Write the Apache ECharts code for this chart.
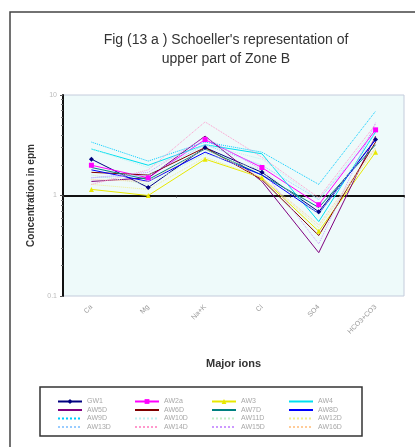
<!DOCTYPE html>
<html><head><meta charset="utf-8">
<script src="https://cdn.jsdelivr.net/npm/echarts@6/dist/echarts.min.js"></script>
<style>html,body{margin:0;padding:0;background:#fff}#c{width:415px;height:447px}</style>
</head><body><div id="c"></div>
<script>
const categories = ['Ca', 'Mg', 'Na+K', 'Cl', 'SO4', 'HCO3+CO3'];
const seriesNames = ['GW1','AW2a','AW3','AW4','AW5D','AW6D','AW7D','AW8D','AW9D','AW10D','AW11D','AW12D','AW13D','AW14D','AW15D','AW16D'];
const s01 = [2.3, 1.2, 3.0, 1.7, 0.69, 3.6];
const s02 = [2.0, 1.5, 3.6, 1.9, 0.81, 4.5];
const s03 = [1.15, 1.0, 2.3, 1.5, 0.44, 2.7];
const s04 = [2.9, 2.0, 3.2, 2.6, 0.55, 4.3];
const s05 = [1.38, 1.5, 3.9, 1.38, 0.27, 3.9];
const s06 = [1.7, 1.6, 3.0, 1.44, 0.40, 3.4];
const s07 = [1.9, 1.44, 2.9, 1.6, 0.76, 3.2];
const s08 = [1.8, 1.38, 2.7, 1.6, 0.66, 3.6];
const s09 = [3.4, 2.2, 3.4, 2.7, 1.29, 6.9];
const s10 = [2.9, 1.9, 3.2, 2.3, 0.91, 4.7];
const s11 = [1.6, 1.29, 2.6, 1.8, 0.65, 3.8];
const s12 = [1.29, 1.15, 2.4, 1.5, 0.48, 2.9];
const s13 = [1.5, 1.6, 3.2, 2.0, 0.91, 4.2];
const s14 = [1.29, 1.8, 5.4, 2.4, 0.95, 5.1];
const s15 = [1.5, 1.7, 3.8, 1.8, 0.33, 5.3];
const s16 = [1.44, 1.38, 2.9, 1.5, 0.51, 3.0];
const allValues = [s01,s02,s03,s04,s05,s06,s07,s08,s09,s10,s11,s12,s13,s14,s15,s16];
const yTicks = [0.1, 1, 10];

const colors = ['#000080','#FF00FF','#E8E800','#00E0F0','#800080','#800000','#008080','#0000FF',
                '#00CCFF','#BFF3F3','#C8F0C8','#F0F090','#99CCFF','#FF99CC','#CC99FF','#FFCC99'];
const symbols = ['diamond','rect','triangle','none','none','none','none','none',
                 'none','none','none','none','none','none','none','none'];

const series = allValues.map((d, i) => ({
  name: seriesNames[i], type: 'line', data: d, xAxisIndex: 0,
  symbol: symbols[i], symbolSize: 5, showSymbol: symbols[i] !== 'none',
  lineStyle: { width: 1, color: colors[i], type: i >= 8 ? 'dotted' : 'solid' },
  itemStyle: { color: colors[i] },
  z: 3
}));

const legendCols = [52, 129, 206, 283];
const legends = legendCols.map((x, c) => ({
  orient: 'vertical', left: x, top: 393, itemWidth: 24, itemHeight: 6, itemGap: 1.5,
  data: [0,1,2,3].map(r => {
    const k = r*4 + c;
    return symbols[k] === 'none' ? { name: seriesNames[k], itemStyle: { opacity: 0 } } : { name: seriesNames[k] };
  }),
  textStyle: { fontSize: 7, color: '#a8a8a8', fontFamily: 'Liberation Sans' },
  selectedMode: false
}));

const chart = echarts.init(document.getElementById('c'), null, { renderer: 'canvas' });
chart.setOption({
  animation: false,
  backgroundColor: '#fff',
  color: colors,
  textStyle: { fontFamily: 'Liberation Sans' },
  title: {
    text: "Fig (13 a ) Schoeller's representation of\nupper part of Zone B",
    left: 221, top: 26, textAlign: 'center',
    textStyle: { fontSize: 14, fontWeight: 'normal', color: '#333', lineHeight: 19, fontFamily: 'Liberation Sans' }
  },
  graphic: [
    { type: 'rect', shape: { x: 10, y: 12, width: 440, height: 470 }, style: { fill: 'none', stroke: '#444', lineWidth: 1.5 }, z: 0 },
    { type: 'rect', shape: { x: 40, y: 387, width: 322, height: 49 }, style: { fill: '#fff', stroke: '#333', lineWidth: 1.5 }, z: 0 }
  ],
  legend: legends,
  grid: { left: 63, right: 11, top: 95, bottom: 151, show: true, backgroundColor: '#eefafa', borderColor: '#c4ccdc', borderWidth: 1 },
  xAxis: [
    { type: 'category', data: categories, boundaryGap: true,
      axisLine: { show: false }, axisTick: { show: false },
      axisLabel: { rotate: 45, fontSize: 7, color: '#999', margin: 10, interval: 0 },
      name: 'Major ions', nameLocation: 'middle', nameGap: 62,
      nameTextStyle: { fontSize: 11, fontWeight: 'bold', color: '#333' } },
    { type: 'category', data: categories, boundaryGap: true, position: 'bottom', offset: -100.5,
      axisLine: { show: true, lineStyle: { color: '#111', width: 2 } },
      axisTick: { show: true, length: 2, lineStyle: { color: '#333' } },
      axisLabel: { show: false } }
  ],
  yAxis: {
    type: 'log', logBase: 10, min: yTicks[0], max: yTicks[2],
    axisLine: { show: true, lineStyle: { color: '#111', width: 2 } },
    axisTick: { show: true, length: 3, lineStyle: { color: '#555' } },
    minorTick: { show: true, length: 2, splitNumber: 9, lineStyle: { color: '#777' } },
    splitLine: { show: false },
    axisLabel: { fontSize: 7, color: '#bbb', margin: 6 },
    name: 'Concentration in epm', nameLocation: 'middle', nameGap: 26,
    nameTextStyle: { fontSize: 10, fontWeight: 'bold', color: '#333' }
  },
  series: series
});
</script></body></html>
